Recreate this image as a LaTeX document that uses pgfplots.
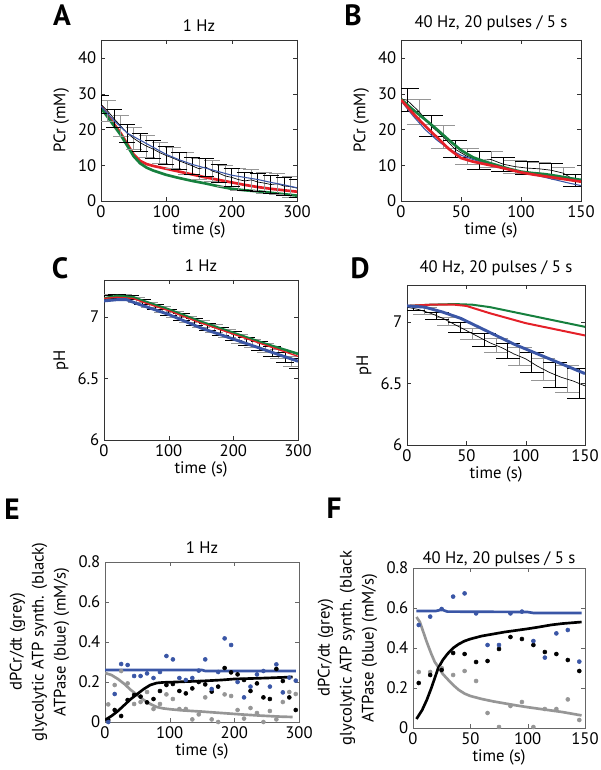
\documentclass[border=0pt]{standalone}
\usepackage{fontspec}
\setmainfont{PT Sans}
\usepackage{pgfplots}
\pgfplotsset{compat=1.18}
\usepackage{pgfplotstable}
\definecolor{mred}{RGB}{228,32,40}
\definecolor{mgreen}{RGB}{22,128,62}
\definecolor{mblue}{RGB}{58,86,166}
\definecolor{mgrey}{RGB}{150,150,150}
\pgfplotsset{
  mstyle/.style={scale only axis, font=\fontsize{12.5}{15}\selectfont,
    /pgf/number format/assume math mode=true,
    tick align=inside, major tick length=3pt,
    axis line style={black!80}, tick style={black!80},
    xlabel={time (s)}, clip=true,
    xlabel style={yshift=3pt}, title style={yshift=-3pt}},
  ebar/.style n args={2}{draw=none, forget plot,
    error bars/.cd, y dir=both, y explicit,
    error bar style={#1, line width=0.6pt},
    error mark=|,
    error mark options={#1, line width=0.6pt, mark size=#2}},
}
% ---------- Panel A ----------
\pgfplotstableread{
x y e
0 27.0 2.5
20 23.0 2.5
40 19.0 2.5
60 16.3 2.5
80 14.5 2.5
100 12.7 2.5
120 11.2 2.5
140 9.8 2.5
160 9.5 2.5
180 7.8 2.5
200 6.6 2.5
220 5.6 2.5
240 5.3 2.5
260 4.6 2.5
280 4.2 2.5
300 3.6 2.5
}\Aeven
\pgfplotstableread{
x y e
10 25.2 3.0
30 21.0 3.0
50 17.5 3.0
70 15.3 3.0
90 13.5 3.0
110 12.0 3.0
130 10.5 3.0
150 9.0 3.0
170 8.4 3.0
190 7.0 3.0
210 6.0 3.0
230 5.9 3.0
250 5.0 3.0
270 4.8 3.0
290 4.0 3.0
}\Aodd
\pgfplotstableread{
x y
0 27.0
10 25.2
20 23.0
30 21.0
40 19.0
50 17.5
60 16.3
70 15.3
80 14.5
90 13.5
100 12.7
110 12.0
120 11.2
130 10.5
140 9.8
150 9.0
160 9.5
170 8.4
180 7.8
190 7.0
200 6.6
210 6.0
220 5.6
230 5.9
240 5.3
250 5.0
260 4.6
270 4.8
280 4.2
290 4.0
300 3.6
}\Amean
% ---------- Panel B ----------
\pgfplotstableread{
x y e
5 28.2 3.2
25 21.0 3.0
45 14.5 2.3
65 11.3 2.5
85 10.3 2.0
105 9.2 1.8
125 8.6 1.8
145 5.8 1.7
}\Beven
\pgfplotstableread{
x y e
15 25.0 3.5
35 18.0 3.2
55 12.5 2.2
75 11.6 2.3
95 9.6 1.8
115 9.0 1.7
135 7.8 1.7
}\Bodd
\pgfplotstableread{
x y
0 28.5
5 28.2
15 25.0
25 21.0
35 18.0
45 14.5
55 12.5
65 11.3
75 11.6
85 10.3
95 9.6
105 9.2
115 9.0
125 8.6
135 7.8
145 5.8
150 5.6
}\Bmean
% ---------- Panel C ----------
\pgfplotstableread{
x y e
0 7.160 0.015
20 7.165 0.015
40 7.160 0.018
60 7.120 0.020
80 7.080 0.022
100 7.040 0.024
120 7.000 0.026
140 6.960 0.028
160 6.920 0.030
180 6.885 0.032
200 6.845 0.034
220 6.800 0.035
240 6.765 0.036
260 6.720 0.038
280 6.670 0.040
300 6.625 0.040
}\Ceven
\pgfplotstableread{
x y e
10 7.165 0.015
30 7.165 0.016
50 7.140 0.019
70 7.100 0.021
90 7.060 0.023
110 7.020 0.025
130 6.980 0.027
150 6.940 0.029
170 6.905 0.031
190 6.865 0.033
210 6.820 0.034
230 6.785 0.035
250 6.745 0.037
270 6.700 0.039
290 6.640 0.040
}\Codd
% ---------- Panel D ----------
\pgfplotstableread{
x y e
5 7.115 0.020
25 7.050 0.030
45 6.955 0.040
65 6.855 0.050
85 6.765 0.060
105 6.670 0.080
125 6.570 0.100
145 6.500 0.120
}\Deven
\pgfplotstableread{
x y e
15 7.090 0.025
35 7.005 0.035
55 6.905 0.045
75 6.810 0.055
95 6.720 0.070
115 6.615 0.090
135 6.535 0.110
}\Dodd
% ---------- Panel E dots ----------
\pgfplotstableread{
x b k g
5 0.000 0.010 0.088
15 0.140 0.060 0.185
25 0.290 0.030 0.255
35 0.285 0.110 0.193
45 0.230 0.135 0.090
55 0.230 0.127 0.100
65 0.243 0.098 0.150
75 0.220 0.115 0.065
85 0.250 0.155 0.090
95 0.330 0.185 0.138
105 0.313 0.190 0.115
115 0.220 0.155 0.065
125 0.210 0.143 0.065
135 0.220 0.168 0.013
145 0.257 0.200 0.038
155 0.313 0.188 0.123
165 0.165 0.152 0.013
175 0.250 0.177 0.000
185 0.418 0.270 0.138
195 0.385 0.248 0.130
205 0.200 0.238 0.060
215 0.123 0.210 0.017
225 0.177 0.155 0.070
235 0.238 0.193 0.045
245 0.255 0.123 0.000
255 0.177 0.115 0.055
265 0.288 0.265 0.013
275 0.148 0.205 0.100
285 0.222 0.123 0.150
295 0.207 0.060 0.140
}\Edots
% ---------- Panel F dots ----------
\pgfplotstableread{
x b k g
5 0.515 0.225 0.280
15 0.557 0.265 0.280
25 0.595 0.290 0.300
35 0.657 0.375 0.265
45 0.673 0.370 0.285
55 0.573 0.330 0.235
65 0.415 0.335 0.075
75 0.415 0.395 0.005
85 0.573 0.455 0.110
95 0.582 0.445 0.130
105 0.435 0.415 0.005
115 0.352 0.380 0.095
125 0.473 0.370 0.095
135 0.490 0.340 0.143
145 0.332 0.285 0.040
}\Fdots
\begin{document}
\begin{tikzpicture}
\path[use as bounding box] (0,0) rectangle (450pt,577.5pt);
\tikzset{plab/.style={font=\fontsize{22}{22}\selectfont\bfseries}}
\node[plab] at (46.5pt,566pt) {A};
\node[plab] at (264.75pt,566pt) {B};
\node[plab] at (45pt,376.5pt) {C};
\node[plab] at (270pt,376.5pt) {D};
\node[plab] at (9pt,195.75pt) {E};
\node[plab] at (250.5pt,196.5pt) {F};

% A
\begin{axis}[mstyle, at={(75.75pt,426.75pt)}, anchor=south west,
  width=147pt, height=120.75pt, xmin=0, xmax=300, ymin=0, ymax=45,
  xtick={0,100,200,300}, ytick={0,10,20,30,40},
  ylabel={PCr (mM)}, title={1 Hz}]
\addplot[mred, line width=2pt] coordinates {(0,26.5)(10,24)(20,21.5)(30,19)(40,16)(50,13)(60,11.2)(70,10.3)(80,9.8)(100,9.0)(120,8.2)(140,7.4)(160,6.6)(180,5.9)(200,5.2)(220,4.5)(240,3.9)(260,3.4)(280,3.0)(300,2.6)};
\addplot[mgreen, line width=2pt] coordinates {(0,26)(10,23.5)(20,21)(30,18.5)(40,15.5)(50,12.5)(60,10.5)(70,9.3)(80,8.5)(100,7.3)(120,6.4)(140,5.6)(160,4.9)(180,4.1)(200,3.4)(220,3.0)(240,2.7)(260,2.3)(280,1.9)(300,1.5)};
\addplot[ebar={mgrey}{6pt}] table[x=x,y=y,y error=e] {\Aodd};
\addplot[ebar={black}{6pt}] table[x=x,y=y,y error=e] {\Aeven};
\addplot[black, line width=0.5pt] table[x=x,y=y] {\Amean};
\addplot[mblue, line width=0.8pt] coordinates {(0,26.5)(20,22.5)(40,19)(60,17)(80,15)(100,13)(120,11.5)(140,10.2)(160,9.2)(180,8.2)(200,7.2)(220,6.6)(240,6)(260,5.2)(280,4.5)(300,3.7)};
\end{axis}

% B
\begin{axis}[mstyle, at={(300.75pt,426.75pt)}, anchor=south west,
  width=135pt, height=120.75pt, xmin=0, xmax=150, ymin=0, ymax=45,
  xtick={0,50,100,150}, ytick={0,10,20,30,40},
  ylabel={PCr (mM)}, title={40 Hz, 20 pulses / 5 s}]
\addplot[ebar={mgrey}{9pt}] table[x=x,y=y,y error=e] {\Bodd};
\addplot[ebar={black}{9pt}] table[x=x,y=y,y error=e] {\Beven};
\addplot[black, line width=0.5pt] table[x=x,y=y] {\Bmean};
\addplot[mblue, line width=0.8pt] coordinates {(0,28)(10,23.8)(20,20)(30,17)(40,14.5)(50,12.8)(60,11.6)(70,10.6)(80,9.8)(90,9)(100,8.2)(110,7.4)(120,6.6)(130,5.8)(140,5)(150,4.3)};
\addplot[mgreen, line width=2pt] coordinates {(0,28.5)(10,25.5)(20,22.8)(30,20)(40,17)(50,14.2)(60,12.2)(70,11)(80,10)(90,9)(100,8.2)(110,7.8)(120,7.5)(130,7.0)(140,6.4)(150,5.9)};
\addplot[mred, line width=2pt] coordinates {(0,28.3)(10,24.5)(20,21)(30,17.8)(40,14.5)(50,12)(60,11)(70,10.3)(80,9.6)(90,8.8)(100,8.0)(110,7.4)(120,6.9)(130,6.4)(140,5.9)(150,5.4)};
\end{axis}

% C
\begin{axis}[mstyle, at={(78pt,247.5pt)}, anchor=south west,
  width=145.5pt, height=120pt, xmin=0, xmax=300, ymin=6, ymax=7.3,
  xtick={0,100,200,300}, ytick={6,6.5,7},
  ylabel={pH}, title={1 Hz}]
\addplot[ebar={mgrey}{6.5pt}] table[x=x,y=y,y error=e] {\Codd};
\addplot[ebar={black}{6.5pt}] table[x=x,y=y,y error=e] {\Ceven};
\addplot[mgreen, line width=2pt] coordinates {(0,7.15)(20,7.17)(45,7.16)(60,7.13)(100,7.06)(150,6.96)(200,6.87)(250,6.78)(300,6.70)};
\addplot[mred, line width=1pt] coordinates {(0,7.15)(20,7.16)(45,7.15)(60,7.12)(100,7.05)(150,6.95)(200,6.86)(250,6.77)(300,6.68)};
\addplot[mblue, line width=2.2pt] coordinates {(0,7.13)(20,7.14)(35,7.14)(50,7.11)(100,7.02)(150,6.91)(200,6.82)(250,6.73)(300,6.64)};
\end{axis}

% D
\begin{axis}[mstyle, at={(305.25pt,243.75pt)}, anchor=south west,
  width=133.5pt, height=120pt, xmin=0, xmax=150, ymin=6, ymax=7.3,
  xtick={0,50,100,150}, ytick={6,6.5,7},
  ylabel={pH}, title={40 Hz, 20 pulses / 5 s}]
\addplot[ebar={mgrey}{9pt}] table[x=x,y=y,y error=e] {\Dodd};
\addplot[ebar={black}{9pt}] table[x=x,y=y,y error=e] {\Deven};
\addplot[black, line width=0.5pt] coordinates {(0,7.12)(10,7.10)(20,7.07)(30,7.03)(40,6.98)(50,6.93)(60,6.88)(70,6.83)(80,6.79)(90,6.74)(100,6.70)(110,6.64)(120,6.59)(130,6.55)(140,6.52)(150,6.48)};
\addplot[mgreen, line width=1.5pt] coordinates {(0,7.13)(20,7.14)(40,7.145)(55,7.14)(70,7.12)(85,7.09)(100,7.06)(115,7.03)(130,7.0)(150,6.96)};
\addplot[mred, line width=1.5pt] coordinates {(0,7.13)(20,7.14)(40,7.14)(50,7.13)(60,7.10)(70,7.07)(85,7.03)(100,6.99)(115,6.96)(130,6.93)(150,6.89)};
\addplot[mblue, line width=2.2pt] coordinates {(0,7.13)(15,7.12)(30,7.08)(45,7.03)(60,6.96)(75,6.89)(90,6.82)(105,6.76)(120,6.70)(135,6.64)(150,6.58)};
\end{axis}

% E
\begin{axis}[mstyle, at={(78.75pt,36pt)}, anchor=south west,
  width=145.5pt, height=120pt, xmin=0, xmax=300, ymin=0, ymax=0.8,
  xtick={0,100,200,300}, ytick={0,0.2,0.4,0.6,0.8},
  axis line style={black!60}, tick style={black!60},
  ylabel={dPCr/dt (grey)\\glycolytic ATP synth. (black)\\ATPase (blue) (mM/s)},
  ylabel style={align=center, font=\fontsize{12.5}{16.5}\selectfont},
  title={1 Hz}]
\addplot[mgrey, only marks, mark=*, mark size=1.5pt] table[x=x,y=g] {\Edots};
\addplot[black, only marks, mark=*, mark size=1.5pt] table[x=x,y=k] {\Edots};
\addplot[mblue, only marks, mark=*, mark size=1.5pt] table[x=x,y=b] {\Edots};
\addplot[mblue, line width=2pt] coordinates {(0,0.26)(150,0.26)(155,0.255)(295,0.255)};
\addplot[mgrey, line width=2pt] coordinates {(0,0.245)(10,0.235)(20,0.215)(30,0.19)(40,0.16)(50,0.135)(60,0.11)(70,0.09)(80,0.075)(90,0.068)(100,0.064)(120,0.058)(150,0.052)(180,0.045)(210,0.038)(240,0.032)(270,0.027)(290,0.025)};
\addplot[black, line width=2pt] coordinates {(0,0.01)(10,0.03)(20,0.055)(30,0.085)(40,0.115)(50,0.14)(60,0.165)(70,0.185)(80,0.195)(90,0.198)(110,0.20)(150,0.205)(180,0.21)(200,0.215)(250,0.22)(290,0.225)};
\end{axis}

% F
\begin{axis}[mstyle, at={(309.75pt,31.5pt)}, anchor=south west,
  width=129pt, height=120pt, xmin=0, xmax=150, ymin=0, ymax=0.8,
  xtick={0,50,100,150}, ytick={0,0.2,0.4,0.6,0.8},
  axis line style={black!60}, tick style={black!60},
  ylabel={dPCr/dt (grey)\\glycolytic ATP synth. (black\\ATPase (blue) (mM/s)},
  ylabel style={align=center, font=\fontsize{12.5}{16.5}\selectfont},
  title={40 Hz, 20 pulses / 5 s}, title style={yshift=-6pt}]
\addplot[mgrey, only marks, mark=*, mark size=1.5pt] table[x=x,y=g] {\Fdots};
\addplot[black, only marks, mark=*, mark size=1.5pt] table[x=x,y=k] {\Fdots};
\addplot[mblue, only marks, mark=*, mark size=1.5pt] table[x=x,y=b] {\Fdots};
\addplot[mblue, line width=2pt] coordinates {(3,0.585)(20,0.585)(25,0.592)(30,0.582)(100,0.58)(105,0.575)(147,0.575)};
\addplot[mgrey, line width=2pt] coordinates {(3,0.555)(6,0.53)(9,0.48)(12,0.43)(16,0.37)(19,0.33)(22,0.305)(26,0.27)(30,0.245)(35,0.215)(40,0.19)(45,0.172)(50,0.16)(60,0.145)(70,0.133)(80,0.123)(90,0.113)(100,0.104)(110,0.096)(120,0.088)(130,0.08)(147,0.063)};
\addplot[black, line width=2pt] coordinates {(3,0.045)(8,0.09)(12,0.14)(16,0.2)(19,0.25)(22,0.3)(26,0.34)(30,0.37)(35,0.40)(40,0.42)(45,0.435)(50,0.445)(60,0.46)(70,0.47)(80,0.48)(90,0.488)(100,0.496)(110,0.505)(120,0.515)(130,0.522)(147,0.53)};
\end{axis}
\end{tikzpicture}
\end{document}
